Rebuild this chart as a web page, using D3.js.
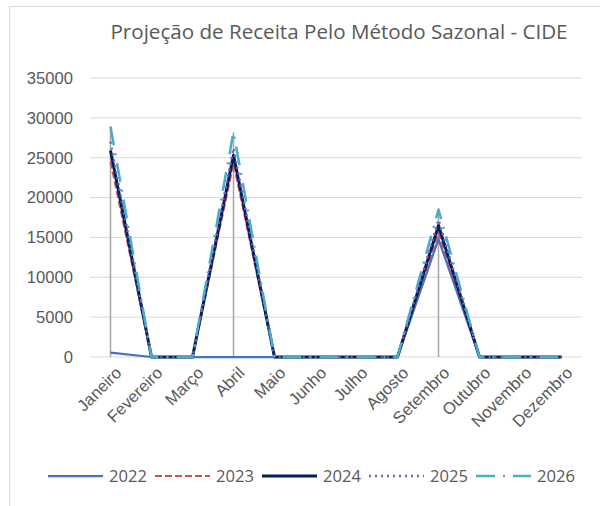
<!DOCTYPE html>
<html>
<head>
<meta charset="utf-8">
<script src="https://cdn.jsdelivr.net/npm/d3@7"></script>
<style>
  body { margin: 0; background: #fff; }
  svg { font-family: "Open Sans", "Noto Sans", sans-serif; }
</style>
</head>
<body>
<svg id="chart" width="600" height="506"></svg>
<script>
let months = ["Janeiro","Fevereiro","Março","Abril","Maio","Junho","Julho","Agosto","Setembro","Outubro","Novembro","Dezembro"];
let years = ["2022","2023","2024","2025","2026"];
let v2022 = [540, 0, 0, 0, 0, 0, 0, 0, 14800, 0, 0, 0];
let v2023 = [24500, 0, 0, 24300, 0, 0, 0, 0, 15600, 0, 0, 0];
let v2024 = [25900, 0, 0, 25300, 0, 0, 0, 0, 16500, 0, 0, 0];
let v2025 = [27000, 0, 0, 26200, 0, 0, 0, 0, 17200, 0, 0, 0];
let v2026 = [28900, 0, 0, 28200, 0, 0, 0, 0, 18500, 0, 0, 0];
let yTicks = [0, 5000, 10000, 15000, 20000, 25000, 30000, 35000];

let series = [
  {name: years[0], values: v2022, color: "#4472C4", width: 2.25, dash: null},
  {name: years[1], values: v2023, color: "#D0504D", width: 2, dash: "7,3"},
  {name: years[2], values: v2024, color: "#002060", width: 3, dash: null},
  {name: years[3], values: v2025, color: "#7F5FB0", width: 2.5, dash: "2,4"},
  {name: years[4], values: v2026, color: "#4BACC6", width: 2.5, dash: "19,8,2,8"}
];

let svg = d3.select('#chart');

// chart frame
svg.append("rect")
   .attr("x", 9.5).attr("y", 6.5)
   .attr("width", 620).attr("height", 520)
   .attr("fill", "none")
   .attr("stroke", "#d9d9d9")

svg.append("text")
   .attr("x", 339).attr("y", 39)
   .attr("text-anchor", "middle")
   .attr("font-size", 20.6)
   .attr("fill", "#595959")
   .text("Projeção de Receita Pelo Método Sazonal - CIDE")

let x = d3.scaleBand().domain(months).range([90, 582]);
let y = d3.scaleLinear().domain([0, 35000]).range([357, 78]);

// gridlines
svg.selectAll(".grid")
   .data(yTicks)
   .enter()
   .append("line")
   .attr("x1", 90).attr("x2", 582)
   .attr("y1", d => y(d)).attr("y2", d => y(d))
   .attr("stroke", "#d9d9d9")
   .attr("stroke-width", 1)

let yAxis = svg.append("g")
   .attr("transform", "translate(73,0)")
   .call(d3.axisLeft(y).tickValues(yTicks).tickSize(0).tickPadding(0).tickFormat(d => d));
yAxis.select(".domain").remove();
yAxis.selectAll("text").attr("font-size", 16.6).attr("fill", "#595959").attr("font-family", null);

let xAxis = svg.append("g")
   .attr("transform", "translate(0,357)")
   .call(d3.axisBottom(x).tickSize(0).tickPadding(0));
xAxis.select(".domain").remove();
xAxis.selectAll("text")
   .attr("font-size", 16.6)
   .attr("fill", "#595959")
   .attr("font-family", null)
   .attr("text-anchor", "end")
   .attr("dy", 0)
   .attr("transform", "translate(12,17) rotate(-45)")

let cx = d => x(d) + x.bandwidth() / 2;

// drop lines from the highest point to the axis
svg.selectAll(".drop")
   .data(months)
   .enter()
   .append("line")
   .attr("x1", d => cx(d)).attr("x2", d => cx(d))
   .attr("y1", y(0))
   .attr("y2", (d, i) => y(d3.max(series, s => s.values[i])))
   .attr("stroke", "#a6a6a6")
   .attr("stroke-width", 1.5)

let line = d3.line()
   .x((d, i) => cx(months[i]))
   .y(d => y(d));

svg.selectAll(".series")
   .data(series)
   .enter()
   .append("path")
   .attr("d", d => line(d.values))
   .attr("fill", "none")
   .attr("stroke", d => d.color)
   .attr("stroke-width", d => d.width)
   .attr("stroke-dasharray", d => d.dash)
   .attr("stroke-linejoin", "round")

// legend
let legend = svg.selectAll(".legend")
   .data(series)
   .enter()
   .append("g")
   .attr("transform", (d, i) => "translate(" + (48 + i * 107) + ",476)")

legend.append("line")
   .attr("x1", 0).attr("x2", 55)
   .attr("stroke", d => d.color)
   .attr("stroke-width", d => d.width)
   .attr("stroke-dasharray", d => d.dash)

legend.append("text")
   .attr("x", 61).attr("y", 6)
   .attr("font-size", 16.6)
   .attr("fill", "#595959")
   .text(d => d.name)
</script>
</body>
</html>
